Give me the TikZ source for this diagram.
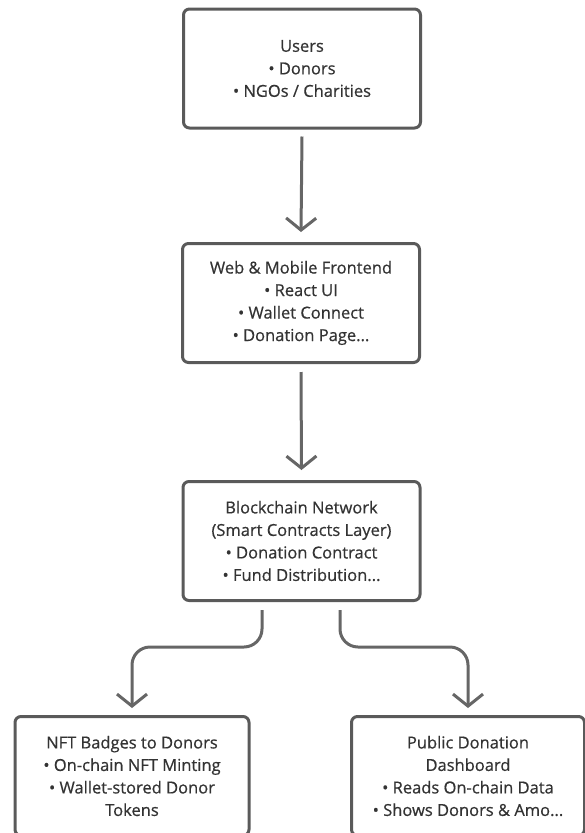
\documentclass[tikz,border=0pt]{standalone}
\usepackage{fontspec}
\setmainfont{Open Sans}[FakeBold=0.6]
\usetikzlibrary{arrows.meta}
\definecolor{boxline}{HTML}{5A5A5A}
\definecolor{txt}{HTML}{333333}
\definecolor{wire}{HTML}{666666}
\begin{document}
\begin{tikzpicture}[x=1pt, y=-1pt,
    layer/.style={draw=boxline, line width=3pt, rounded corners=6pt, minimum width=237pt,
      minimum height=119pt, inner sep=0pt, align=center, text=txt,
      font=\fontsize{16.5}{22.5}\selectfont},
    link/.style={draw=wire, line width=3pt, rounded corners=18pt,
      -{Straight Barb[length=12pt, width=30pt]}}]
    \useasboundingbox (0,0) rectangle (585,833);
    \node[layer](users) at (302,68.5) {Users\\• Donors\\• NGOs / Charities};
    \node[layer](front) at (301,303) {Web \& Mobile Frontend\\• React UI\\• Wallet Connect\\• Donation Page...};
    \node[layer](chain) at (301.5,541) {Blockchain Network\\(Smart Contracts Layer)\\• Donation Contract\\• Fund Distribution...};
    \node[layer, minimum width=234pt](nft) at (132,776) {NFT Badges to Donors\\• On-chain NFT Minting\\• Wallet-stored Donor\\Tokens};
    \node[layer, minimum width=233pt](board) at (468,776) {Public Donation\\Dashboard\\• Reads On-chain Data\\• Shows Donors \& Amo...};
    \draw[link]([yshift=-7pt]users.south)--([yshift=10pt]front.north);
    \draw[link]([yshift=-8pt]front.south)--([yshift=10pt]chain.north);
    \draw[link]([xshift=-39.5pt, yshift=-8pt]chain.south)--++(0,37)-|([yshift=7pt]nft.north);
    \draw[link]([xshift=38.5pt, yshift=-8pt]chain.south)--++(0,37)-|([yshift=7pt]board.north);
\end{tikzpicture}
\end{document}
